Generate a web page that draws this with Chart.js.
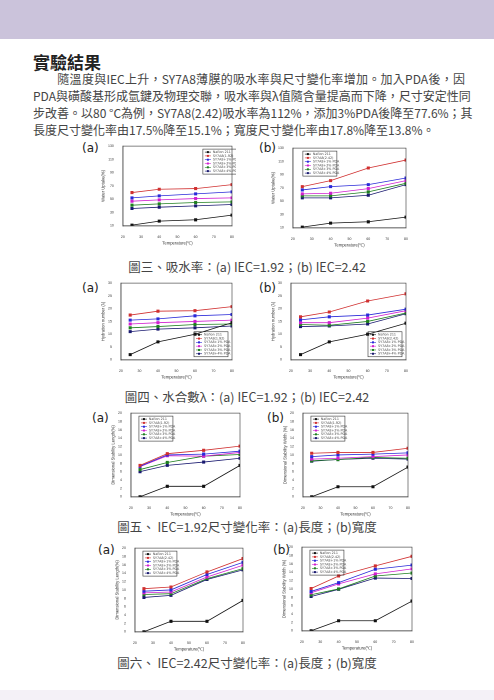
<!DOCTYPE html>
<html><head><meta charset="utf-8">
<script src="https://cdn.jsdelivr.net/npm/chart.js@4"></script>
<style>
body{margin:0;width:494px;height:700px;background:#fff;position:relative;overflow:hidden;font-family:"Noto Sans CJK TC","Noto Sans",sans-serif;color:#333}
.band{position:absolute;left:0;top:0;width:494px;height:39px;background:#cbc3db}
.bband{position:absolute;left:0;top:690px;width:494px;height:10px;background:#f4f1f7}
h1{position:absolute;left:33px;top:49px;margin:0;font-size:17px;font-weight:bold;color:#222}
.p{position:absolute;left:33px;top:70px;width:432px;font-size:12px;line-height:17px;color:#444}
.p div{text-align:justify;text-align-last:justify;white-space:nowrap}
.p div.last{text-align-last:left}
.cap{position:absolute;left:0;width:494px;text-align:center;font-size:12.5px;color:#444}
.lab{position:absolute;font-size:12px;color:#222;font-family:"DejaVu Sans",sans-serif}
canvas{position:absolute}
</style></head><body>
<div class="band"></div><div class="bband"></div>
<h1>實驗結果</h1>
<div class="p"><div>&emsp;&emsp;隨溫度與IEC上升，SY7A8薄膜的吸水率與尺寸變化率增加。加入PDA後，因</div><div>PDA與磺酸基形成氫鍵及物理交聯，吸水率與λ值隨含量提高而下降，尺寸安定性同</div><div>步改善。以80 °C為例，SY7A8(2.42)吸水率為112%，添加3%PDA後降至77.6%；其</div><div class="last">長度尺寸變化率由17.5%降至15.1%；寬度尺寸變化率由17.8%降至13.8%。</div></div>
<div class="cap" style="top:257px">圖三、吸水率：(a) IEC=1.92；(b) IEC=2.42</div>
<div class="cap" style="top:387px">圖四、水合數λ：(a) IEC=1.92；(b) IEC=2.42</div>
<div class="cap" style="top:517px">圖五、 IEC=1.92尺寸變化率：(a)長度；(b)寬度</div>
<div class="cap" style="top:653px">圖六、 IEC=2.42尺寸變化率：(a)長度；(b)寬度</div>
<div class="lab" style="left:82px;top:141px">(a)</div><div class="lab" style="left:259px;top:141px">(b)</div>
<div class="lab" style="left:82px;top:281px">(a)</div><div class="lab" style="left:259px;top:281px">(b)</div>
<div class="lab" style="left:92px;top:411px">(a)</div><div class="lab" style="left:267px;top:411px">(b)</div>
<div class="lab" style="left:98px;top:543px">(a)</div><div class="lab" style="left:273px;top:543px">(b)</div>
<script>
const temps=[25,40,60,80];
const seriesNames=["Nafion 211","SY7A8(1.92)","SY7A8+1% PDA","SY7A8+2% PDA","SY7A8+3% PDA","SY7A8+4% PDA"];
const seriesNamesB=["Nafion 211","SY7A8(2.42)","SY7A8+1% PDA","SY7A8+2% PDA","SY7A8+3% PDA","SY7A8+4% PDA"];
const colors=["#111111","#d03030","#2a2ad8","#d020d0","#208020","#1a1a70"];
// Fig 3 water uptake
const wuA=[[11,17,19,26],[60,65,66,72],[52,55,58,61],[47,49,51,52],[41,43,45,46],[36,38,40,42]];
const wuB=[[11,17,19,26],[72,81,100,112],[67,72,75,85],[61,62,69,81],[58,58,64,77],[55,55,59,75]];
// Fig 4 hydration number
const hnA=[[2,7,10,14.5],[17.5,19,19.2,20.8],[15.5,16,17.2,17.7],[14,14.5,15,15.5],[12.5,13,13.8,14],[11,12,12.5,13.2]];
const hnB=[[2,7,10,14.3],[16.8,18.7,23,25.8],[15.6,16.8,17.5,19.8],[14.5,14.5,16.3,19.2],[13.8,13.5,15,18.3],[13,13.2,14,18]];
// Fig 5 IEC 1.92 dimensional
const dlA=[[0,2.5,2.5,7.5],[7.5,10.3,11.1,12.1],[7.3,10,10.2,10.9],[7.2,9.8,9.7,10.6],[6.5,8.2,9.7,10.1],[6,7.5,8.3,9.2]];
const dwA=[[0,2.4,2.4,7.1],[10.4,10.6,10.6,11.6],[9.6,10,10.2,10.5],[9,9.2,9.6,10],[8.6,8.9,9.4,9.2],[8.5,8.9,9.2,9.0]];
// Fig 6 IEC 2.42 dimensional
const dlB=[[0,2.5,2.5,7.5],[10.3,10.7,14.3,17.5],[9.7,10,13.7,16.6],[9.3,9.5,13.1,15.9],[8.9,9.1,12.7,15.1],[8.2,8.7,12.5,14.8]];
const dwB=[[0,2.4,2.4,7.1],[10.1,13.1,15.5,17.8],[9.4,11.5,14.7,15.7],[9.1,11.2,13.6,14.8],[8.6,10,13.1,13.8],[8.2,9.9,12.6,12.5]];

const boxPlug={id:'box',afterDraw(c){const a=c.chartArea,x=c.ctx;x.save();x.strokeStyle='#333';x.lineWidth=0.6;x.strokeRect(a.left,a.top,a.right-a.left,a.bottom-a.top);
const o=c.options.plugins.boxLeg;const lx=o.pos==='br'?a.right-38:a.left+(o.dx||8),ly=o.pos==='br'?a.bottom-28:a.top+3;
x.strokeRect(lx,ly,34,25);x.font='3.3px "DejaVu Sans"';x.textBaseline='middle';
c.data.datasets.forEach((d,i)=>{const yy=ly+3+i*3.8;x.strokeStyle=d.borderColor;x.fillStyle=d.borderColor;x.beginPath();x.moveTo(lx+2,yy);x.lineTo(lx+8,yy);x.stroke();x.fillRect(lx+4,yy-1,2,2);x.fillStyle='#444';x.fillText(d.label,lx+10,yy);});
x.restore();}};

function mk(id,left,top,w,h,data,names,ymin,ymax,step,ytitle,legPos,dx){
 const cv=document.createElement('canvas');cv.id=id;cv.style.left=left+'px';cv.style.top=top+'px';cv.width=w;cv.height=h;cv.style.width=w+'px';cv.style.height=h+'px';document.body.appendChild(cv);
 new Chart(cv,{type:'line',data:{datasets:data.map((s,i)=>({label:names[i],data:temps.map((t,j)=>({x:t,y:s[j]})),borderColor:colors[i],backgroundColor:colors[i],borderWidth:0.8,pointStyle:'rect',pointRadius:1.6,pointHoverRadius:1.6}))},
 options:{responsive:false,animation:false,devicePixelRatio:2,layout:{padding:{top:2,right:4}},plugins:{legend:{display:false},tooltip:{enabled:false},boxLeg:{pos:legPos,dx:dx}},
 scales:{x:{type:'linear',min:20,max:80,ticks:{stepSize:10,font:{size:3.5},color:'#333',padding:1},grid:{display:false},border:{color:'#333',width:0.6},title:{display:true,text:'Temperature(℃)',font:{size:4.2},color:'#333',padding:1}},
 y:{min:ymin,max:ymax,ticks:{stepSize:step,font:{size:3.5},color:'#333',padding:1},grid:{display:false},border:{color:'#333',width:0.6},title:{display:true,text:ytitle,font:{size:4.2},color:'#333',padding:1}}}},plugins:[boxPlug]});
}
mk('c1',100,143,136,104,wuA,seriesNames,10,130,10,'Water Uptake(%)','tr',80);
mk('c2',270,145,140,104,wuB,seriesNamesB,10,130,10,'Water Uptake(%)','tr',10);
mk('c3',100,280,136,101,hnA,seriesNames,0,30,5,'Hydration number (λ)','br');
mk('c4',270,280,140,101,hnB,seriesNamesB,0,30,5,'Hydration number (λ)','br');
mk('c5',110,410,134,108,dlA,seriesNames,0,20,2,'Dimensional Stability Length(%)','tr',8);
mk('c6',282,410,130,108,dwA,seriesNames,0,20,2,'Dimensional Stability Width (%)','tr',8);
mk('c7',114,545,133,108,dlB,seriesNamesB,0,20,2,'Dimensional Stability Length(%)','tr',8);
mk('c8',281,544,135,108,dwB,seriesNamesB,0,20,2,'Dimensional Stability Width (%)','tr',8);
</script></body></html>
